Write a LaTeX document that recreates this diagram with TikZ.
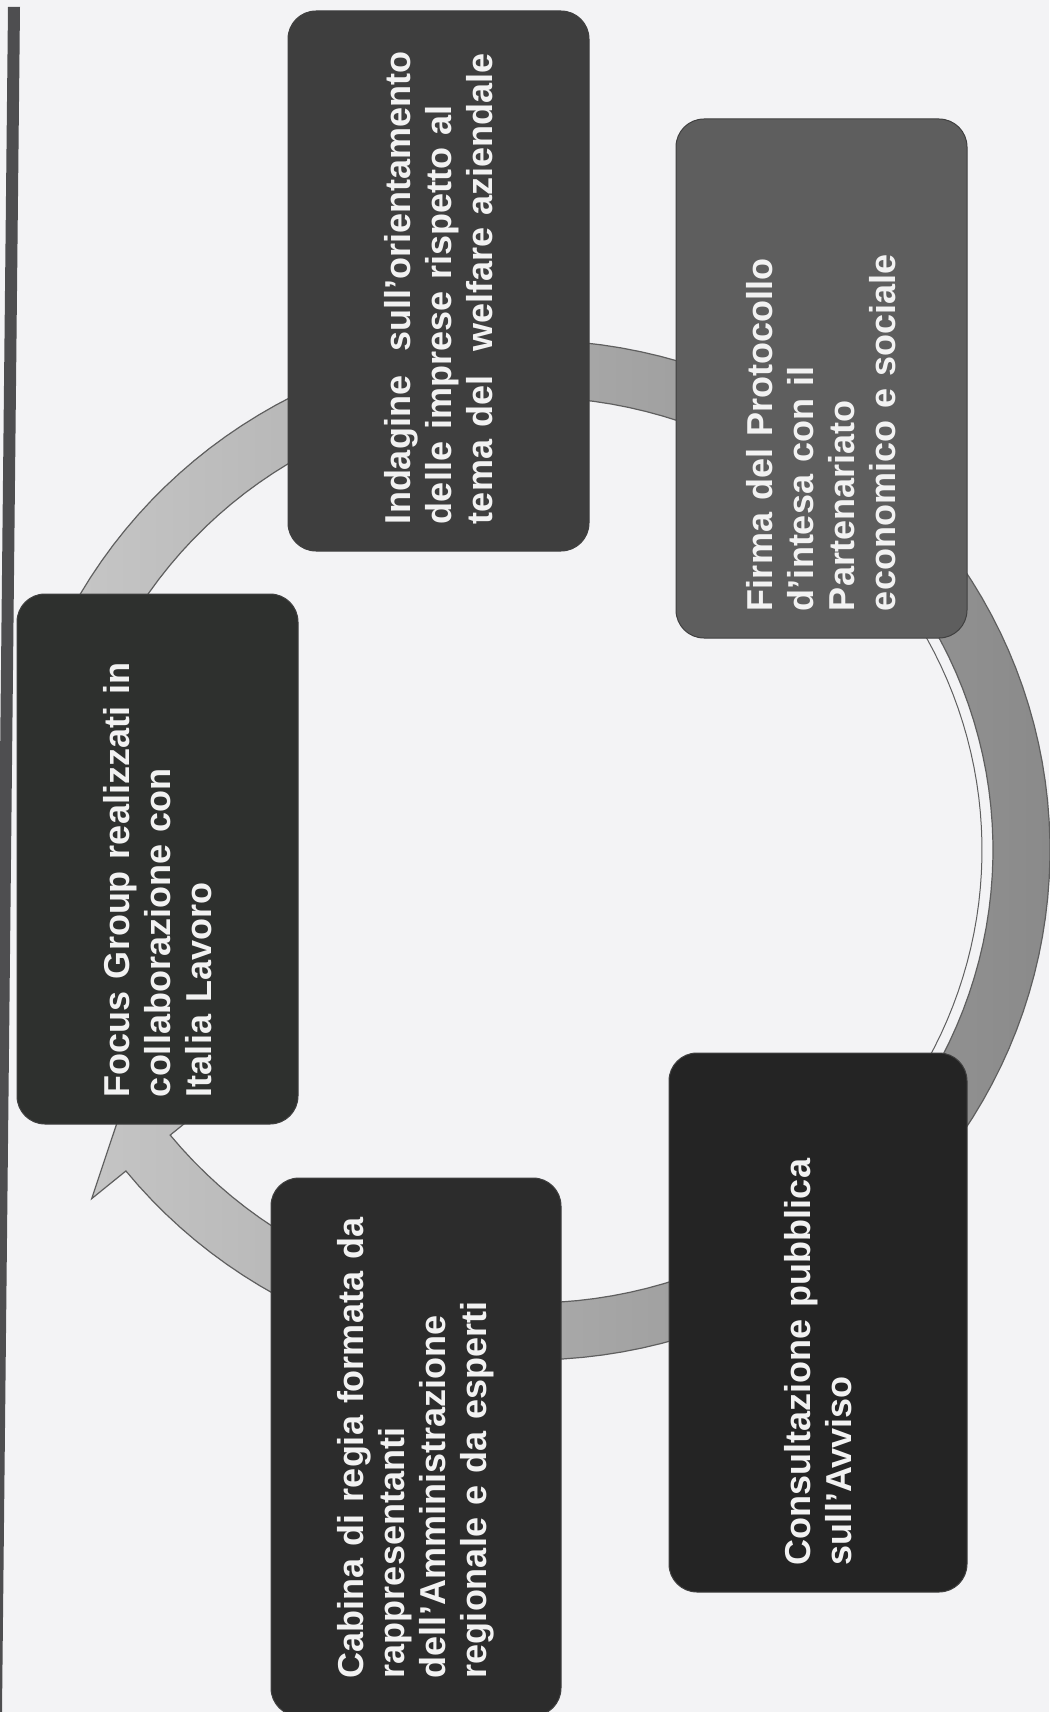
\documentclass[tikz,border=0pt]{standalone}
\usepackage{fontspec}
\setmainfont{Liberation Sans}
\definecolor{bgcol}{RGB}{243,243,245}
\definecolor{barcol}{RGB}{78,78,80}
\definecolor{txtcol}{RGB}{242,242,242}
\definecolor{cfocus}{RGB}{46,48,46}
\definecolor{cindag}{RGB}{62,62,62}
\definecolor{cfirma}{RGB}{94,94,94}
\definecolor{cconsu}{RGB}{36,36,36}
\definecolor{ccabin}{RGB}{44,44,44}
\definecolor{ringlight}{RGB}{200,200,200}
\definecolor{ringdark}{RGB}{138,138,138}
\definecolor{ringedge}{RGB}{95,95,95}
\begin{document}
\begin{tikzpicture}[x=1pt,y=-1pt,
  stagebox/.style={rectangle, rounded corners=28pt, rotate=90, inner xsep=27pt, inner ysep=0pt,
    align=left, text=txtcol, font=\bfseries\fontsize{36}{41}\selectfont, draw=black!75, line width=1pt},
  ringband/.style={left color=ringlight, right color=ringdark, draw=ringedge, line width=1.2pt},
  ringline/.style={draw=ringedge, line width=1pt}]
\fill[bgcol] (0,0) rectangle (1049,1712);
\useasboundingbox (0,0) rectangle (1049,1712);
% left rule
\fill[barcol] (8,7) -- (20,7) -- (2,1712) -- (-10,1712) -- cycle;
% circular arrow (ellipse centre 530,850; mid radii 492 x 482)
\shadedraw[ringband] plot[domain=197:501, samples=140] ({530+520*cos(\x)},{850+510*sin(\x)})
  -- ({530+564*cos(141)},{850+554*sin(141)})
  -- ({530+477*cos(148)},{850+467*sin(148)})
  -- ({530+420*cos(141)},{850+410*sin(141)})
  -- plot[domain=501:197, samples=140] ({530+463*cos(\x)},{850+453*sin(\x)}) -- cycle;
\draw[ringline] plot[domain=-58:58, samples=60] ({530+452*cos(\x)},{850+442*sin(\x)});
% stages
\node[stagebox, fill=cfocus, minimum width=530pt, minimum height=281pt, text width=476pt] (focus) at (157.5,859)
  {Focus Group realizzati in\\collaborazione con\\Italia Lavoro};
\node[stagebox, fill=cindag, minimum width=540pt, minimum height=301pt, text width=486pt] (indagine) at (438.5,281)
  {Indagine\ \ sull’orientamento\\delle imprese rispetto al\\tema del\ \ welfare aziendale};
\node[stagebox, fill=cfirma, minimum width=519pt, minimum height=291pt, text width=465pt] (firma) at (821.5,378.5)
  {Firma del Protocollo\\d’intesa con il\\Partenariato\\economico e sociale};
\node[stagebox, fill=cconsu, minimum width=539pt, minimum height=298pt, text width=485pt] (consult) at (818,1322.5)
  {Consultazione pubblica\\sull’Avviso};
\node[stagebox, fill=ccabin, inner xsep=38pt, minimum width=538pt, minimum height=290pt, text width=462pt] (cabina) at (416,1447)
  {Cabina di regia formata da\\rappresentanti\\dell’Amministrazione\\regionale e da esperti};
\end{tikzpicture}
\end{document}
